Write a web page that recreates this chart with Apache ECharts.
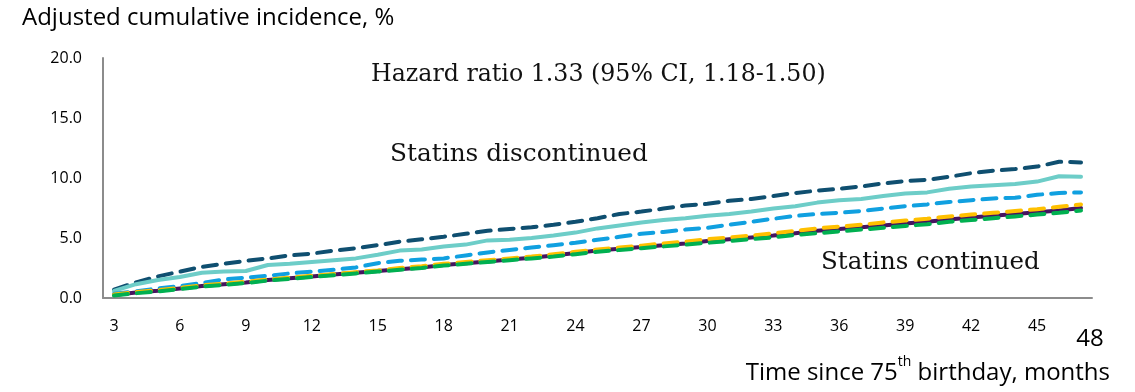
<!DOCTYPE html>
<html>
<head>
<meta charset="utf-8">
<script src="https://cdn.jsdelivr.net/npm/echarts@6/dist/echarts.min.js"></script>
<style>
  html, body { margin: 0; padding: 0; background: #ffffff; }
  #chart { width: 1135px; height: 392px; }
</style>
</head>
<body>
<div id="chart"></div>
<script>
// Months since the 75th birthday (one category per month)
const months = [3,4,5,6,7,8,9,10,11,12,13,14,15,16,17,18,19,20,21,22,23,24,25,26,27,28,29,30,31,32,33,34,35,36,37,38,39,40,41,42,43,44,45,46,47];

// Adjusted cumulative incidence (%), statins discontinued
const discontinuedA = [0.7,1.3,1.8,2.2,2.6,2.85,3.1,3.3,3.55,3.7,3.95,4.15,4.4,4.7,4.9,5.1,5.35,5.6,5.75,5.9,6.1,6.35,6.65,7.0,7.2,7.45,7.7,7.85,8.1,8.25,8.5,8.75,8.95,9.1,9.3,9.55,9.75,9.85,10.1,10.4,10.6,10.75,10.95,11.35,11.3];
const discontinuedB = [0.6,1.15,1.5,1.75,2.1,2.2,2.25,2.75,2.85,3.0,3.15,3.3,3.6,3.95,4.05,4.3,4.45,4.8,4.85,5.0,5.2,5.45,5.8,6.05,6.3,6.5,6.65,6.85,7.0,7.2,7.45,7.65,7.95,8.15,8.25,8.5,8.7,8.8,9.1,9.3,9.4,9.5,9.7,10.15,10.1];
const discontinuedC = [0.35,0.55,0.8,1.0,1.25,1.55,1.7,1.85,2.05,2.2,2.35,2.55,2.9,3.1,3.2,3.3,3.55,3.8,4.0,4.2,4.4,4.6,4.85,5.1,5.35,5.5,5.7,5.85,6.1,6.35,6.6,6.85,7.0,7.1,7.25,7.45,7.65,7.8,8.0,8.15,8.3,8.35,8.6,8.75,8.8];

// Adjusted cumulative incidence (%), statins continued
const continuedA = [0.25,0.45,0.6,0.8,1.0,1.15,1.3,1.5,1.65,1.8,1.95,2.1,2.25,2.4,2.55,2.75,2.9,3.05,3.2,3.35,3.55,3.75,3.95,4.1,4.25,4.4,4.55,4.75,4.9,5.05,5.2,5.4,5.6,5.75,5.9,6.05,6.2,6.35,6.55,6.7,6.85,7.0,7.15,7.3,7.5];
const continuedB = [0.3,0.5,0.65,0.85,1.05,1.2,1.35,1.55,1.7,1.85,2.0,2.15,2.3,2.5,2.65,2.85,3.0,3.15,3.3,3.45,3.65,3.85,4.05,4.2,4.35,4.55,4.7,4.9,5.05,5.2,5.4,5.6,5.8,5.95,6.1,6.3,6.45,6.6,6.8,6.95,7.1,7.25,7.4,7.6,7.8];
const continuedC = [0.2,0.4,0.55,0.75,0.95,1.1,1.25,1.45,1.6,1.75,1.9,2.05,2.2,2.35,2.5,2.7,2.85,3.0,3.15,3.3,3.45,3.65,3.85,4.0,4.15,4.3,4.45,4.6,4.75,4.9,5.05,5.25,5.4,5.55,5.7,5.85,6.0,6.15,6.35,6.5,6.65,6.8,6.95,7.1,7.3];

// Y-axis scale
const yMin = 0, yMax = 20, yStep = 5;

const sansFont = '"Open Sans", "Noto Sans", sans-serif';
const serifFont = '"DejaVu Serif", "Liberation Serif", serif';

function lineSeries(name, data, color, dash) {
  return {
    name: name,
    type: 'line',
    data: data,
    showSymbol: false,
    symbol: 'none',
    silent: true,
    lineStyle: { color: color, width: 4, type: dash ? [14, 9] : 'solid', cap: 'round' }
  };
}

const chart = echarts.init(document.getElementById('chart'), null, { renderer: 'canvas' });

chart.setOption({
  animation: false,
  backgroundColor: '#ffffff',
  grid: { left: 103, right: 43, top: 58, bottom: 94 },
  xAxis: {
    type: 'category',
    data: months,
    boundaryGap: true,
    axisLine: { lineStyle: { color: '#8c8c8c', width: 2 } },
    axisTick: { show: false },
    axisLabel: { interval: 2, margin: 20, color: '#000000', fontSize: 16, fontFamily: sansFont },
    splitLine: { show: false }
  },
  yAxis: {
    type: 'value',
    min: yMin, max: yMax, interval: yStep,
    axisLine: { show: true, lineStyle: { color: '#8c8c8c', width: 2 } },
    axisTick: { show: false },
    splitLine: { show: false },
    axisLabel: {
      margin: 21, color: '#000000', fontSize: 16, fontFamily: sansFont,
      formatter: v => v.toFixed(1)
    }
  },
  series: [
    lineSeries('Discontinued A', discontinuedA, '#0f4f70', true),
    lineSeries('Discontinued B', discontinuedB, '#6dcdc8', false),
    lineSeries('Discontinued C', discontinuedC, '#10a0e0', true),
    lineSeries('Continued A', continuedA, '#47145f', false),
    lineSeries('Continued B', continuedB, '#ffc000', true),
    lineSeries('Continued C', continuedC, '#00b050', true)
  ],
  graphic: [
    { type: 'text', left: 22, top: 6,
      style: { text: 'Adjusted cumulative incidence, %', fill: '#000000', font: '24px ' + sansFont } },
    { type: 'text', x: 371, y: 75,
      style: { text: 'Hazard ratio 1.33 (95% CI, 1.18-1.50)', fill: '#111111', font: '23.7px ' + serifFont, verticalAlign: 'middle' } },
    { type: 'text', x: 390, y: 155,
      style: { text: 'Statins discontinued', fill: '#111111', font: '24.8px ' + serifFont, verticalAlign: 'middle' } },
    { type: 'text', x: 821, y: 263,
      style: { text: 'Statins continued', fill: '#111111', font: '24.5px ' + serifFont, verticalAlign: 'middle' } },
    { type: 'text', x: 1090, y: 339,
      style: { text: '48', fill: '#000000', font: '24px ' + sansFont, align: 'center', verticalAlign: 'middle' } },
    { type: 'text', x: 1110, y: 370,
      style: {
        text: '{a|Time since 75}{s|th}{a| birthday, months}',
        align: 'right', verticalAlign: 'middle',
        rich: {
          a: { fontSize: 24, fontFamily: sansFont, fill: '#000000', lineHeight: 30, verticalAlign: 'bottom' },
          s: { fontSize: 14, fontFamily: sansFont, fill: '#000000', lineHeight: 30, verticalAlign: 'top', padding: [0, 0, 6, 0] }
        }
      } }
  ]
});
</script>
</body>
</html>
